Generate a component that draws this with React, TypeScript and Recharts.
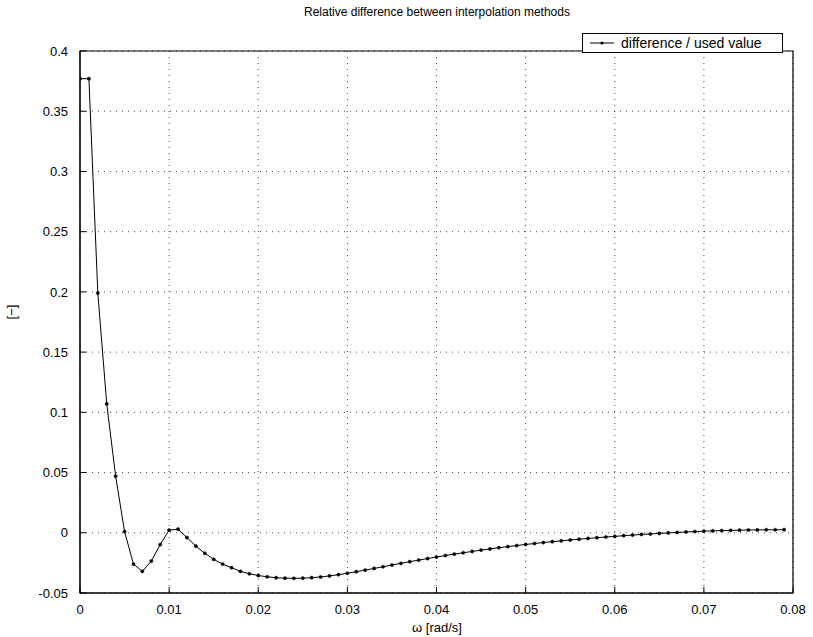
import { LineChart, Line, XAxis, YAxis, CartesianGrid, Legend, ReferenceArea } from 'recharts';

const omega = [
  0, 0.001, 0.002, 0.003, 0.004, 0.005, 0.006, 0.007, 0.008, 0.009,
  0.01, 0.011, 0.012, 0.013, 0.014, 0.015, 0.016, 0.017, 0.018, 0.019,
  0.02, 0.021, 0.022, 0.023, 0.024, 0.025, 0.026, 0.027, 0.028, 0.029,
  0.03, 0.031, 0.032, 0.033, 0.034, 0.035, 0.036, 0.037, 0.038, 0.039,
  0.04, 0.041, 0.042, 0.043, 0.044, 0.045, 0.046, 0.047, 0.048, 0.049,
  0.05, 0.051, 0.052, 0.053, 0.054, 0.055, 0.056, 0.057, 0.058, 0.059,
  0.06, 0.061, 0.062, 0.063, 0.064, 0.065, 0.066, 0.067, 0.068, 0.069,
  0.07, 0.071, 0.072, 0.073, 0.074, 0.075, 0.076, 0.077, 0.078, 0.079,
];

const relDiff = [
  0.377, 0.377, 0.199, 0.107, 0.047, 0.001, -0.026, -0.032, -0.0235, -0.0098,
  0.0022, 0.003, -0.004, -0.011, -0.017, -0.022, -0.026, -0.029, -0.032, -0.034,
  -0.0355, -0.0365, -0.0373, -0.0377, -0.0378, -0.0377, -0.0373, -0.0367, -0.0358, -0.0348,
  -0.0336, -0.0323, -0.031, -0.0296, -0.0282, -0.0268, -0.0254, -0.024, -0.0227, -0.0214,
  -0.0201, -0.0189, -0.0177, -0.0166, -0.0155, -0.0144, -0.0134, -0.0124, -0.0115, -0.0106,
  -0.0097, -0.0089, -0.0081, -0.0074, -0.0067, -0.006, -0.0053, -0.0047, -0.0041, -0.0035,
  -0.003, -0.0024, -0.0019, -0.0014, -0.001, -0.0005, -0.0001, 0.0003, 0.0007, 0.001,
  0.0013, 0.0016, 0.0018, 0.002, 0.0022, 0.0023, 0.0024, 0.0025, 0.0025, 0.0026,
];

const xTicks = [0, 0.01, 0.02, 0.03, 0.04, 0.05, 0.06, 0.07, 0.08];
const yTicks = [-0.05, 0, 0.05, 0.1, 0.15, 0.2, 0.25, 0.3, 0.35, 0.4];

const data = omega.map((w, i) => ({ w, v: relDiff[i] }));

const font = 'Liberation Sans, Arial, Helvetica, sans-serif';
const TICK_LEN = 6;
const GAP = 12;

function fmt(v: number) {
  return String(Math.round(v * 1000) / 1000);
}

// matlab-style ticks: pointing into the plot box
function BottomTick(props: any) {
  const { x, y, payload } = props;
  const axisY = y - GAP;
  return (
    <g>
      <line x1={x} y1={axisY} x2={x} y2={axisY - TICK_LEN} stroke="#000" />
      <text x={x} y={y} dy="0.71em" textAnchor="middle" fontSize={13} fontFamily={font} fill="#000">
        {fmt(payload.value)}
      </text>
    </g>
  );
}

function LeftTick(props: any) {
  const { x, y, payload } = props;
  const axisX = x + GAP;
  return (
    <g>
      <line x1={axisX} y1={y} x2={axisX + TICK_LEN} y2={y} stroke="#000" />
      <text x={x} y={y} dy="0.355em" textAnchor="end" fontSize={13} fontFamily={font} fill="#000">
        {fmt(payload.value)}
      </text>
    </g>
  );
}

function TopTick(props: any) {
  const { x, y } = props;
  return <line x1={x} y1={y} x2={x} y2={y + TICK_LEN} stroke="#000" />;
}

function RightTick(props: any) {
  const { x, y } = props;
  return <line x1={x} y1={y} x2={x - TICK_LEN} y2={y} stroke="#000" />;
}

function LegendBox() {
  return (
    <div
      style={{
        border: '1px solid #000',
        background: '#fff',
        display: 'flex',
        alignItems: 'center',
        height: 20,
        width: 201,
        fontFamily: font,
        fontSize: 14,
        color: '#000',
        boxSizing: 'border-box',
      }}
    >
      <svg width={38} height={10}>
        <line x1={7} y1={5} x2={31} y2={5} stroke="#000" strokeWidth={1} />
        <circle cx={19} cy={5} r={1.6} fill="#000" />
      </svg>
      <span>difference / used value</span>
    </div>
  );
}

export default function App() {
  return (
    <div style={{ position: 'absolute', left: 0, top: 0, width: 813, height: 637, background: '#fff' }}>
      <LineChart width={813} height={637} data={data} margin={{ top: 31, right: 20, bottom: 14, left: 30 }}>
        <CartesianGrid stroke="#000" strokeDasharray="1 5" strokeOpacity={0.7} />
        <XAxis
          dataKey="w"
          type="number"
          domain={[0, 0.08]}
          ticks={xTicks}
          height={30}
          axisLine={{ stroke: '#000' }}
          tickLine={false}
          tickSize={0}
          tickMargin={GAP}
          tick={<BottomTick />}
          interval={0}
          allowDataOverflow
        />
        <XAxis
          xAxisId="top"
          orientation="top"
          dataKey="w"
          type="number"
          domain={[0, 0.08]}
          ticks={xTicks}
          height={0}
          axisLine={{ stroke: '#000' }}
          tickLine={false}
          tickSize={0}
          tickMargin={0}
          tick={<TopTick />}
          interval={0}
        />
        <YAxis
          type="number"
          domain={[-0.05, 0.4]}
          ticks={yTicks}
          width={50}
          axisLine={{ stroke: '#000' }}
          tickLine={false}
          tickSize={0}
          tickMargin={GAP}
          tick={<LeftTick />}
          interval={0}
          allowDataOverflow
        />
        <YAxis
          yAxisId="right"
          orientation="right"
          type="number"
          domain={[-0.05, 0.4]}
          ticks={yTicks}
          width={0}
          axisLine={{ stroke: '#000' }}
          tickLine={false}
          tickSize={0}
          tickMargin={0}
          tick={<RightTick />}
          interval={0}
        />
        <ReferenceArea x1={0} x2={0.08} y1={-0.05} y2={0.4} fill="none" stroke="#000" strokeWidth={1.2} ifOverflow="visible" />
        <Legend
          verticalAlign="top"
          align="right"
          wrapperStyle={{ position: 'absolute', top: 33, left: 582, width: 201 }}
          content={() => <LegendBox />}
        />
        <Line
          dataKey="v"
          type="linear"
          stroke="#000"
          strokeWidth={1}
          dot={{ r: 1.6, fill: '#000', stroke: '#000', strokeWidth: 0.5 }}
          isAnimationActive={false}
        />
        <text x={437} y={16} textAnchor="middle" style={{ fontSize: 12, fontFamily: font }} fill="#000">
          Relative difference between interpolation methods
        </text>
        <text x={437} y={632} textAnchor="middle" style={{ fontSize: 13, fontFamily: font }} fill="#000">
          ω [rad/s]
        </text>
        <text x={16} y={312} textAnchor="middle" transform="rotate(-90 16 312)" style={{ fontSize: 13, fontFamily: font }} fill="#000">
          [−]
        </text>
      </LineChart>
    </div>
  );
}
